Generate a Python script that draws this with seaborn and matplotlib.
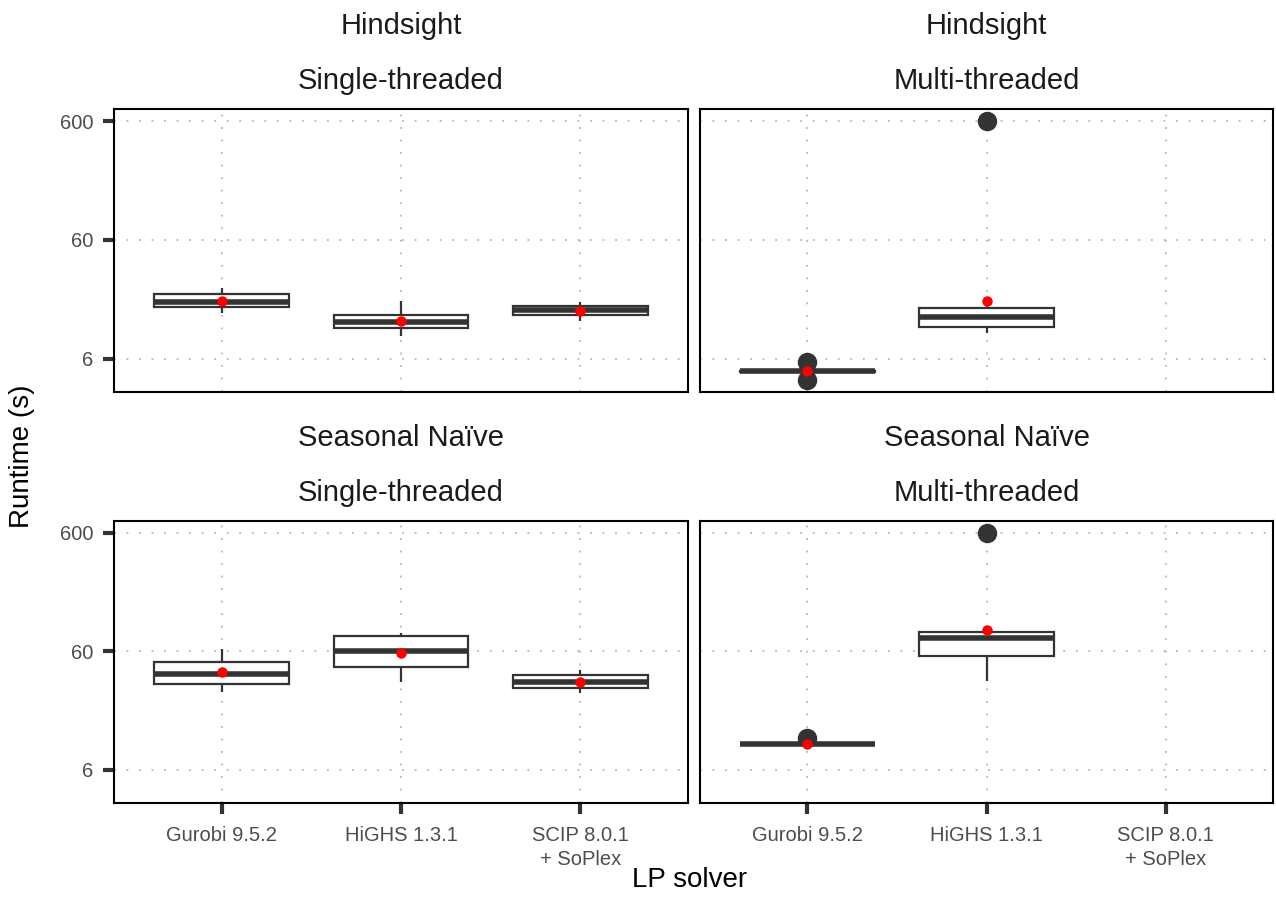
# plot.py - LP solver runtimes, boxplots per heuristic / threading

import numpy as np
import pandas as pd
import matplotlib
matplotlib.use("Agg")
import matplotlib.pyplot as plt
from matplotlib.ticker import NullLocator, FixedLocator
import seaborn as sns

# ------------------------------------------------------------------
# Data (runtimes in seconds)
# ------------------------------------------------------------------
solvers = ["Gurobi 9.5.2", "HiGHS 1.3.1", "SCIP 8.0.1\n+ SoPlex"]
heuristics = ["Hindsight", "Seasonal Naïve"]
threadings = ["Single-threaded", "Multi-threaded"]

# Hindsight, single-threaded
gurobi_hs_st = [14.6, 16.3, 18.0, 21.1, 23.7]
highs_hs_st = [9.4, 10.9, 12.3, 14.1, 18.3]
scip_hs_st = [12.4, 14.1, 15.6, 16.6, 18.1]
means_hs_st = [18.5, 12.6, 15.3]

# Hindsight, multi-threaded (no SCIP runs)
gurobi_hs_mt = [4.0, 4.66, 4.68, 4.69, 4.70, 4.71, 4.72, 4.74, 5.6]
highs_hs_mt = [9.9, 10.5, 11.2, 12.4, 13.6, 14.9, 16.1, 16.8, 600]
means_hs_mt = [4.7, 18.3]

# Seasonal Naive, single-threaded
gurobi_sn_st = [27.5, 31.8, 38.7, 48.8, 63.2]
highs_sn_st = [33.1, 44.6, 61.1, 81.5, 86.3]
scip_sn_st = [26.9, 29.8, 33.1, 38.1, 41.5]
means_sn_st = [40.2, 58.2, 33.3]

# Seasonal Naive, multi-threaded (no SCIP runs)
gurobi_sn_mt = [9.85, 9.90, 9.92, 9.94, 9.95, 9.96, 9.98, 10.0, 11.1]
highs_sn_mt = [34.1, 45.0, 55.2, 68.0, 77.3, 83.0, 88.1, 89.0, 600]
means_sn_mt = [9.95, 91.5]

y_ticks = [6, 60, 600]
y_tick_labels = ["6", "60", "600"]

# ------------------------------------------------------------------
# Long-form tables
# ------------------------------------------------------------------
samples = {
    ("Hindsight", "Single-threaded"): [gurobi_hs_st, highs_hs_st, scip_hs_st],
    ("Hindsight", "Multi-threaded"): [gurobi_hs_mt, highs_hs_mt],
    ("Seasonal Naïve", "Single-threaded"): [gurobi_sn_st, highs_sn_st, scip_sn_st],
    ("Seasonal Naïve", "Multi-threaded"): [gurobi_sn_mt, highs_sn_mt],
}
means = {
    ("Hindsight", "Single-threaded"): means_hs_st,
    ("Hindsight", "Multi-threaded"): means_hs_mt,
    ("Seasonal Naïve", "Single-threaded"): means_sn_st,
    ("Seasonal Naïve", "Multi-threaded"): means_sn_mt,
}

rows, mean_rows = [], []
for (heur, thr), groups in samples.items():
    for solver, vals in zip(solvers, groups):
        for v in vals:
            rows.append({"heuristic": heur, "threading": thr, "solver": solver, "runtime": v})
    for solver, m in zip(solvers, means[(heur, thr)]):
        mean_rows.append({"heuristic": heur, "threading": thr, "solver": solver, "runtime": m})
df = pd.DataFrame(rows)
df_mean = pd.DataFrame(mean_rows)

# ------------------------------------------------------------------
# Figure
# ------------------------------------------------------------------
sns.set_style("white")
plt.rcParams["font.family"] = ["Liberation Sans", "DejaVu Sans"]

W, H = 1276, 906
fig, axes = plt.subplots(2, 2, figsize=(W / 100, H / 100), dpi=100, sharey=True)

# panel boxes in pixels: (left, top, right, bottom)
panel_px = {
    (0, 0): (114, 109, 688, 392),
    (0, 1): (700, 109, 1273, 392),
    (1, 0): (114, 521, 688, 803),
    (1, 1): (700, 521, 1273, 803),
}

line_col = "#333333"
grid_kw = dict(color="#ABABAB", linestyle=(0, (1.2, 7.0)), linewidth=1.1)

for i, heur in enumerate(heuristics):
    for j, thr in enumerate(threadings):
        ax = axes[i, j]
        l, t, r, b = panel_px[(i, j)]
        ax.set_position([l / W, 1 - b / H, (r - l) / W, (b - t) / H])

        sub = df[(df["heuristic"] == heur) & (df["threading"] == thr)]
        sub_m = df_mean[(df_mean["heuristic"] == heur) & (df_mean["threading"] == thr)]

        sns.boxplot(
            data=sub, x="solver", y="runtime", order=solvers, ax=ax,
            log_scale=True, color="white", linecolor=line_col, linewidth=1.6,
            width=0.75, showcaps=False, fliersize=13,
            medianprops=dict(linewidth=4.0, color=line_col),
            flierprops=dict(marker="o", markerfacecolor=line_col,
                            markeredgecolor=line_col, zorder=1.5),
        )
        sns.stripplot(
            data=sub_m, x="solver", y="runtime", order=solvers, ax=ax,
            jitter=False, color="red", size=7.5, linewidth=0, zorder=5,
        )

        ax.set_yscale("log")
        ax.set_ylim(3.16, 757)
        ax.set_xlim(-0.6, 2.6)
        ax.yaxis.set_major_locator(FixedLocator(y_ticks))
        ax.yaxis.set_minor_locator(NullLocator())
        ax.set_yticklabels(y_tick_labels)

        ax.set_axisbelow(True)
        ax.grid(True, which="major", axis="both", **grid_kw)
        for sp in ax.spines.values():
            sp.set_visible(True)
            sp.set_color("black")
            sp.set_linewidth(1.5)

        ax.set_xlabel("")
        ax.set_ylabel("")
        ax.tick_params(axis="both", direction="out", length=8, width=3,
                       color=line_col, labelsize=14.5, labelcolor="#4D4D4D",
                       pad=7, bottom=True, left=True)
        ax.tick_params(axis="x", pad=8.5)
        if i == 0:
            ax.tick_params(axis="x", bottom=False, labelbottom=False)
        else:
            for lab in ax.get_xticklabels():
                lab.set_linespacing(1.35)
        if j == 1:
            ax.tick_params(axis="y", left=False, labelleft=False)

        # two-line facet strip (no background)
        ax.annotate(heur, xy=(0.5, 1), xycoords="axes fraction",
                    xytext=(0, 60), textcoords="offset points",
                    ha="center", va="center", fontsize=21, color="#1A1A1A")
        ax.annotate(thr, xy=(0.5, 1), xycoords="axes fraction",
                    xytext=(0, 20), textcoords="offset points",
                    ha="center", va="center", fontsize=21, color="#1A1A1A")

fig.text(22 / W, 1 - 456 / H, "Runtime (s)", rotation=90, ha="center",
         va="center", fontsize=20, color="black")
fig.text(690 / W, 1 - 880 / H, "LP solver", ha="center", va="center",
         fontsize=20, color="black")

fig.savefig("out.png", dpi=100)
plt.close(fig)
